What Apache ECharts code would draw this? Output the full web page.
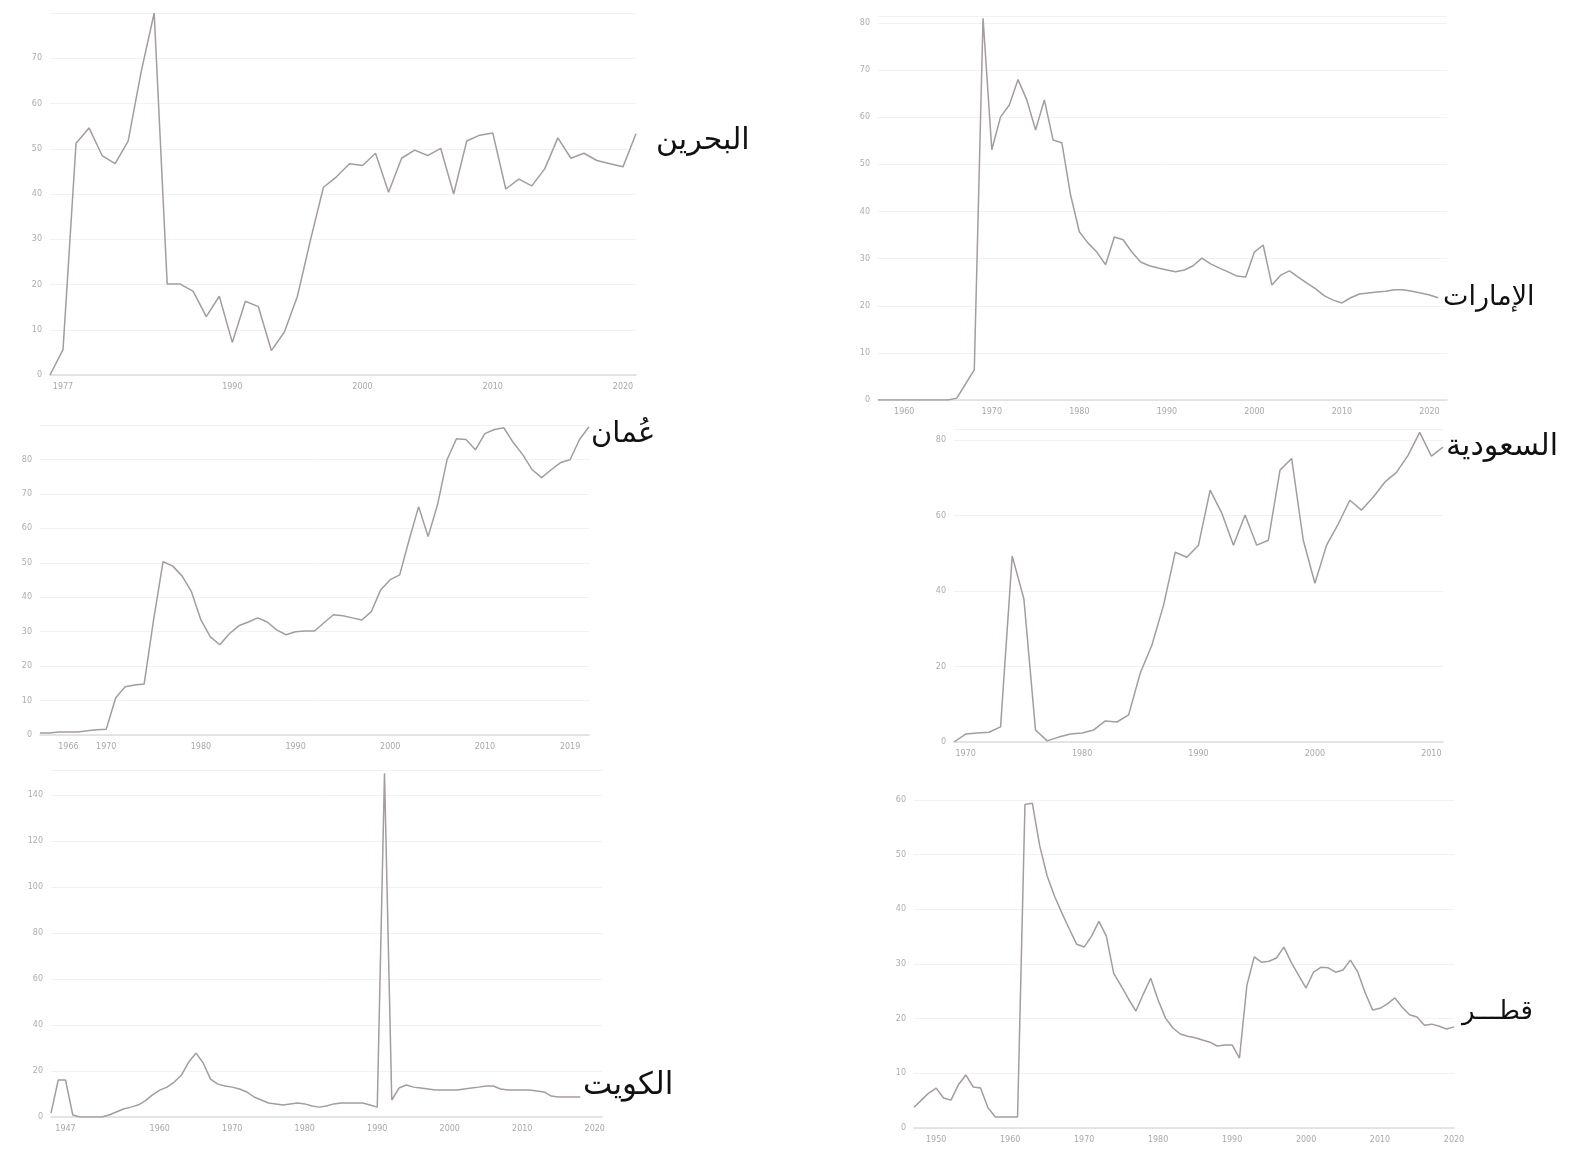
<!DOCTYPE html>
<html><head><meta charset="utf-8">
<script src="https://cdn.jsdelivr.net/npm/echarts@6/dist/echarts.min.js"></script>
<style>html,body{margin:0;padding:0;background:#fff}#c{width:1582px;height:1150px}</style>
</head><body><div id="c"></div><script>
// ---- data ----
const bahrainName = 'البحرين';
const bahrainStart = 1976;
const bahrainValues = [0,5.6,51.2,54.6,48.5,46.7,51.7,67.0,80,20.1,20.1,18.5,12.9,17.4,7.2,16.3,15.1,5.4,9.5,17.4,29.8,41.5,43.8,46.7,46.3,49.0,40.4,47.9,49.7,48.5,50.1,40.0,51.7,53.0,53.5,41.1,43.3,41.8,45.6,52.4,47.9,49.0,47.4,46.7,46.0,53.3];
const bahrainTicks = [1977,1990,2000,2010,2020];

const uaeName = 'الإمارات';
const uaeStart = 1957;
const uaeValues = [0,0,0,0,0,0,0,0,0,0.4,3.4,6.4,81,53.1,60.1,62.6,68.0,63.7,57.3,63.7,55.2,54.6,43.5,35.7,33.3,31.4,28.7,34.6,34.0,31.4,29.3,28.5,28.0,27.6,27.2,27.6,28.5,30.1,28.9,28.0,27.2,26.3,26.1,31.4,32.9,24.4,26.5,27.4,26.1,24.8,23.6,22.1,21.2,20.6,21.7,22.5,22.7,22.9,23.1,23.4,23.4,23.1,22.7,22.3,21.7];
const uaeTicks = [1960,1970,1980,1990,2000,2010,2020];

const omanName = 'عُمان';
const omanStart = 1963;
const omanValues = [0.6,0.6,0.9,0.9,0.9,1.2,1.5,1.7,10.8,14.0,14.5,14.8,33.4,50.3,49.1,46.2,41.6,33.4,28.5,26.2,29.4,31.7,32.8,34.0,32.8,30.5,29.1,30.0,30.2,30.2,32.6,34.9,34.6,34.0,33.4,35.8,42.2,45.1,46.5,56.7,66.3,57.6,66.9,79.9,86.0,85.8,82.8,87.5,88.7,89.2,84.9,81.4,77.0,74.7,77.0,79.1,79.9,85.8,89.5];
const omanTicks = [1966,1970,1980,1990,2000,2010,2019];

const saudiName = 'السعودية';
const saudiStart = 1969;
const saudiValues = [0,2.1,2.4,2.6,4.0,49.3,38.0,3.2,0.3,1.3,2.1,2.4,3.2,5.6,5.3,7.2,18.3,25.7,36.3,50.3,49.0,52.2,66.8,60.7,52.2,60.2,52.2,53.5,72.1,75.2,53.5,42.1,52.2,57.8,64.1,61.5,64.9,68.9,71.5,76.0,82.1,75.8,78.2];
const saudiTicks = [1970,1980,1990,2000,2010];

const kuwaitName = 'الكويت';
const kuwaitStart = 1945;
const kuwaitValues = [1.7,16.1,16.1,0.9,0,0,0,0,0.9,2.2,3.5,4.3,5.2,7.0,9.6,11.7,13.0,15.2,18.3,23.9,27.8,23.5,16.5,14.3,13.5,13.0,12.2,10.9,8.7,7.4,6.1,5.7,5.2,5.7,6.1,5.7,4.8,4.3,4.8,5.7,6.1,6.1,6.1,6.1,5.2,4.3,149.6,7.4,12.6,13.9,13.0,12.6,12.2,11.7,11.7,11.7,11.7,12.2,12.6,13.0,13.5,13.5,12.2,11.7,11.7,11.7,11.7,11.3,10.9,9.1,8.7,8.7,8.7,8.7];
const kuwaitTicks = [1947,1960,1970,1980,1990,2000,2010,2020];

const qatarName = 'قطـــر';
const qatarStart = 1947;
const qatarValues = [3.8,5.1,6.4,7.3,5.5,5.1,7.9,9.7,7.5,7.3,3.7,2.0,2.0,2.0,2.0,59.2,59.4,51.6,46.1,42.4,39.3,36.4,33.6,33.1,35.1,37.8,35.1,28.3,26.0,23.6,21.4,24.5,27.4,23.4,20.1,18.3,17.2,16.8,16.5,16.1,15.7,15.0,15.2,15.2,12.8,26.1,31.3,30.3,30.5,31.1,33.1,30.3,27.9,25.6,28.5,29.4,29.3,28.5,28.9,30.7,28.5,24.7,21.6,21.9,22.7,23.8,22.1,20.7,20.3,18.8,19.0,18.6,18.1,18.5];
const qatarTicks = [1950,1960,1970,1980,1990,2000,2010,2020];

// ---- layout (pixels) ----
const panels = [
  {name: bahrainName, start: bahrainStart, values: bahrainValues, ticks: bahrainTicks, xmax: 2021,
   grid: {left: 50, top: 13, width: 586, height: 362}, ymax: 80, yint: 10, showMax: false, label: [656, 141], fs: 30},
  {name: uaeName, start: uaeStart, values: uaeValues, ticks: uaeTicks, xmax: 2022,
   grid: {left: 878, top: 16, width: 569, height: 384}, ymax: 81.5, yint: 10, showMax: false, label: [1443, 298], fs: 27},
  {name: omanName, start: omanStart, values: omanValues, ticks: omanTicks, xmax: 2021,
   grid: {left: 40, top: 425, width: 549, height: 310}, ymax: 90, yint: 10, showMax: false, label: [591, 434], fs: 29},
  {name: saudiName, start: saudiStart, values: saudiValues, ticks: saudiTicks, xmax: 2011,
   grid: {left: 954, top: 429, width: 489, height: 313}, ymax: 83, yint: 20, showMax: false, label: [1446, 447], fs: 30},
  {name: kuwaitName, start: kuwaitStart, values: kuwaitValues, ticks: kuwaitTicks, xmax: 2021,
   grid: {left: 51, top: 770, width: 551, height: 347}, ymax: 151, yint: 20, showMax: false, label: [583, 1086], fs: 31},
  {name: qatarName, start: qatarStart, values: qatarValues, ticks: qatarTicks, xmax: 2020,
   grid: {left: 914, top: 800, width: 540, height: 328}, ymax: 60, yint: 10, showMax: true, label: [1462, 1012], fs: 26}
];

const grids = [], xAxes = [], yAxes = [], series = [], graphics = [];
panels.forEach((p, i) => {
  grids.push(Object.assign({}, p.grid));
  xAxes.push({
    type: 'value', gridIndex: i, min: p.start, max: p.xmax,
    axisLine: {show: true, lineStyle: {color: '#dddddd', width: 1.5}},
    axisTick: {show: false}, splitLine: {show: false},
    axisLabel: {customValues: p.ticks, formatter: v => String(v), fontSize: 8, color: '#a8a8a8', margin: 8, fontFamily: 'DejaVu Sans'}
  });
  yAxes.push({
    type: 'value', gridIndex: i, min: 0, max: p.ymax, interval: p.yint,
    axisLine: {show: false}, axisTick: {show: false},
    splitLine: {show: true, lineStyle: {color: '#f2f2f2', width: 1}},
    axisLabel: {fontSize: 8, color: '#adadad', margin: 8, showMaxLabel: p.showMax, fontFamily: 'DejaVu Sans'}
  });
  series.push({
    type: 'line', xAxisIndex: i, yAxisIndex: i, symbol: 'none', animation: false,
    lineStyle: {color: '#a49c9e', width: 1.5},
    data: p.values.map((v, k) => [p.start + k, v])
  });
  graphics.push({
    type: 'text', x: p.label[0], y: p.label[1],
    style: {text: p.name, font: p.fs + 'px "DejaVu Sans"', fill: '#111111', textAlign: 'left', textVerticalAlign: 'middle'}
  });
});

const chart = echarts.init(document.getElementById('c'), null, {renderer: 'canvas'});
chart.setOption({
  backgroundColor: '#ffffff',
  animation: false,
  grid: grids, xAxis: xAxes, yAxis: yAxes, series: series,
  graphic: graphics
});
</script></body></html>
